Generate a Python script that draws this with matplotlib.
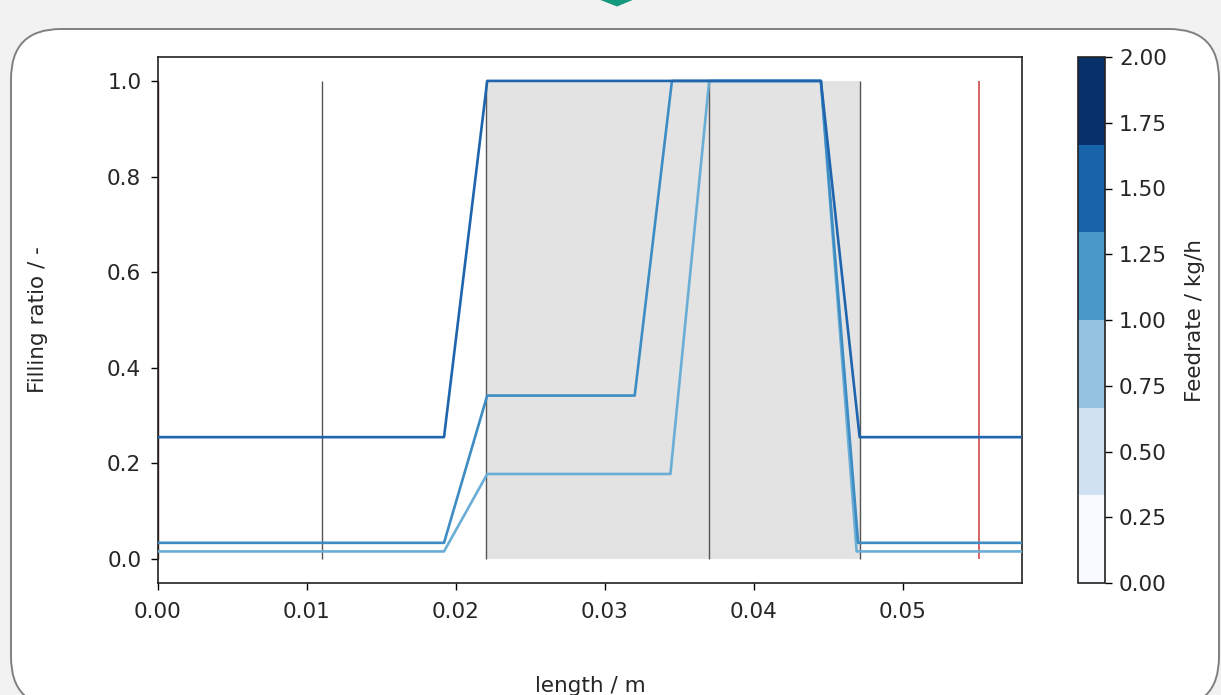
import numpy as np
import matplotlib
matplotlib.use("Agg")
import matplotlib.pyplot as plt
from matplotlib.patches import FancyBboxPatch, Polygon
from matplotlib.colors import Normalize
from matplotlib.cm import ScalarMappable

# ---- data ----
x_high = [0.0, 0.0192, 0.0221, 0.0445, 0.0471, 0.058]
y_high = [0.255, 0.255, 1.0, 1.0, 0.255, 0.255]

x_mid = [0.0, 0.0192, 0.0221, 0.0320, 0.0345, 0.0445, 0.0470, 0.058]
y_mid = [0.034, 0.034, 0.342, 0.342, 1.0, 1.0, 0.034, 0.034]

x_low = [0.0, 0.0192, 0.0221, 0.0344, 0.0370, 0.0445, 0.0469, 0.058]
y_low = [0.016, 0.016, 0.178, 0.178, 1.0, 1.0, 0.016, 0.016]

gray_lines = [0.011, 0.022, 0.037, 0.0471]
red_line = 0.0551
shade_start, shade_end = 0.022, 0.0471

xticks = [0.00, 0.01, 0.02, 0.03, 0.04, 0.05]
yticks = [0.0, 0.2, 0.4, 0.6, 0.8, 1.0]
cbar_ticks = [0.0, 0.25, 0.5, 0.75, 1.0, 1.25, 1.5, 1.75, 2.0]

W, H = 1221, 695
fig = plt.figure(figsize=(W / 100, H / 100), dpi=100, facecolor="#f2f2f2")

# background panel
bg = fig.add_axes([0, 0, 1, 1], zorder=-5)
bg.set_xlim(0, W)
bg.set_ylim(H, 0)
bg.axis("off")
panel = FancyBboxPatch((11, 29), 1219 - 11, 707 - 29,
                       boxstyle="round,pad=0,rounding_size=50",
                       facecolor="white", edgecolor="#808080", linewidth=1.4)
bg.add_patch(panel)
bg.add_patch(Polygon([(598, -1), (635, -1), (617, 6.5)], closed=True,
                     facecolor="#15997e", edgecolor="none"))

tick_fs = 15.5
text_col = "#262626"

ax = fig.add_axes([158 / W, 1 - 583 / H, (1022 - 158) / W, (583 - 57) / H])
ax.set_facecolor("white")

# shaded region
ax.fill_between([shade_start, shade_end], [0, 0], [1, 1], color="#e3e3e3", zorder=1, linewidth=0)

# vertical markers
ax.vlines(0.0, 0, 1, color="#4a1010", linewidth=1.0, zorder=2)
ax.vlines(gray_lines, 0, 1, color="#555555", linewidth=1.0, zorder=2)
ax.vlines(red_line, 0, 1, color="#d0484a", linewidth=1.2, zorder=2)

# filling ratio curves
ax.plot(x_low, y_low, color="#6aaed6", linewidth=1.9, zorder=3)
ax.plot(x_mid, y_mid, color="#3d8cc4", linewidth=1.9, zorder=4)
ax.plot(x_high, y_high, color="#1f65ad", linewidth=1.9, zorder=5)

ax.set_xlim(0, 0.058)
ax.set_ylim(-0.05, 1.05)
ax.set_xticks(xticks)
ax.set_xticklabels([f"{v:.2f}" for v in xticks])
ax.set_yticks(yticks)
ax.set_yticklabels([f"{v:.1f}" for v in yticks])
ax.tick_params(labelsize=tick_fs, labelcolor=text_col, length=5, width=1.0, pad=7)
ax.tick_params(axis="x", pad=9)
for s in ax.spines.values():
    s.set_color("#222222")
    s.set_linewidth(1.2)

ax.set_ylabel("Filling ratio / -", fontsize=tick_fs, color=text_col)
ax.yaxis.set_label_coords(-0.127, 0.5)
ax.set_xlabel("length / m", fontsize=tick_fs, color=text_col)
ax.xaxis.set_label_coords(0.5, -0.176)

# colorbar
cax = fig.add_axes([1078 / W, 1 - 583 / H, (1105 - 1078) / W, (583 - 57) / H])
sm = ScalarMappable(norm=Normalize(0, 2), cmap=plt.get_cmap("Blues", 6))
cb = fig.colorbar(sm, cax=cax, ticks=cbar_ticks)
cb.ax.set_yticklabels([f"{v:.2f}" for v in cbar_ticks])
cb.ax.tick_params(labelsize=tick_fs, labelcolor=text_col, length=5, width=1.0, pad=5)
cb.outline.set_edgecolor("#222222")
cb.outline.set_linewidth(1.2)
cb.set_label("Feedrate / kg/h", fontsize=tick_fs, color=text_col, labelpad=13)

fig.savefig("out.png", dpi=100, facecolor=fig.get_facecolor())
